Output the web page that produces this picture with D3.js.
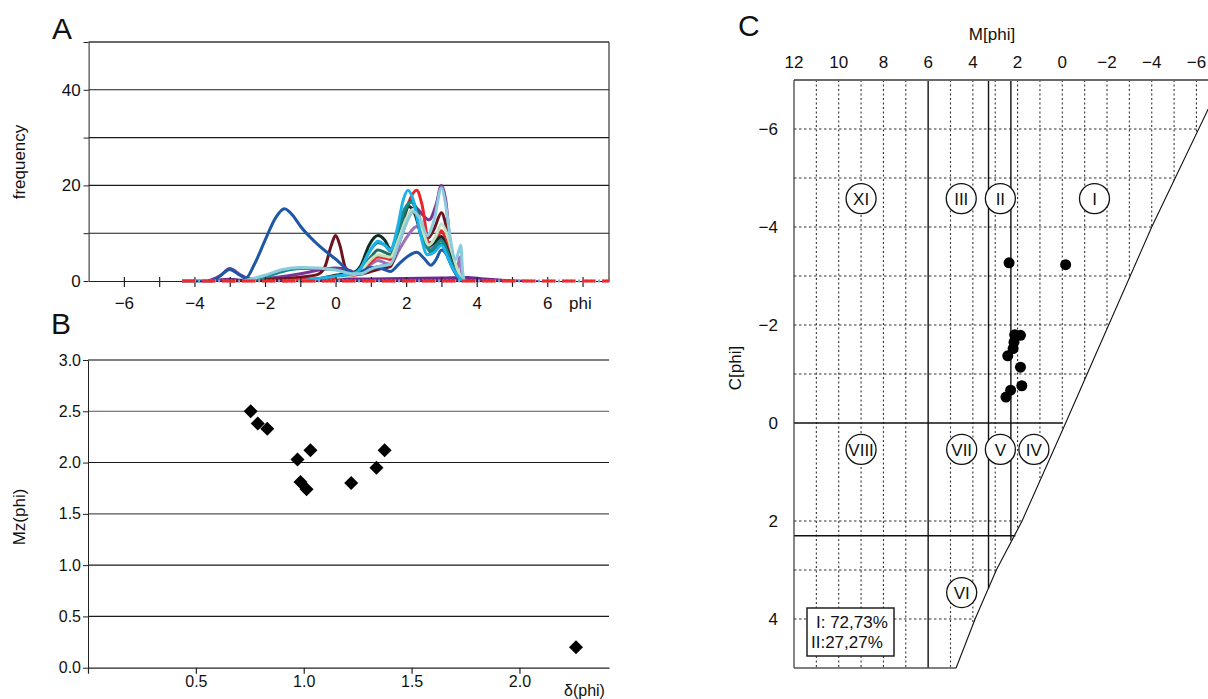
<!DOCTYPE html>
<html>
<head>
<meta charset="utf-8">
<script src="https://cdn.jsdelivr.net/npm/d3@7"></script>
<style>
body { margin: 0; background: #fff; }
svg text { font-family: "Liberation Sans", Arial, sans-serif; fill: #111; }
</style>
</head>
<body>
<svg width="1208" height="699"></svg>
<script>
// ---- A: grain size frequency curves (phi, %) ----
var phiTicks = [-6, -4, -2, 0, 2, 4, 6];
var freqTicks = [0, 20, 40];
var freqGrid = [10, 20, 30, 40, 50];

var sampleBlue = [[-4.35,0],[-3.5,0],[-3.25,1.2],[-3.0,2.4],[-2.75,1.4],[-2.55,0.6],[-2.3,3.5],[-2.0,8.5],[-1.7,13.2],[-1.45,15.1],[-1.2,13.6],[-1.0,11.5],[-0.5,7.6],[0,4.6],[0.5,1.8],[0.7,1.9],[1.0,2.8],[1.3,2.6],[1.55,2.0],[1.8,3.6],[2.05,5.2],[2.3,6.0],[2.5,4.8],[2.7,3.3],[2.85,4.5],[3.0,6.5],[3.15,5.5],[3.3,3.0],[3.45,1.0],[3.6,0]];
var sampleMaroon = [[-3,0],[-2,0.3],[-1,0.8],[-0.5,1.4],[-0.3,3],[-0.12,7.5],[0,9.5],[0.12,7.5],[0.28,2.8],[0.5,1.5],[0.7,1.4],[1.0,2.0],[1.3,2.6],[1.55,3.0],[1.8,8],[2.05,13],[2.25,15],[2.45,11],[2.62,9.0],[2.8,11],[3.0,14.3],[3.15,11],[3.3,5],[3.45,2],[3.6,0]];
var sampleBlack = [[-0.5,0.3],[0,1.2],[0.3,1.5],[0.55,1.9],[0.7,3],[0.95,7.5],[1.2,9.5],[1.4,8.5],[1.55,6.7],[1.7,7.5],[1.9,12.5],[2.08,15.6],[2.25,14],[2.45,9],[2.62,7.2],[2.8,8],[3.0,9.3],[3.15,7],[3.3,4.5],[3.45,2],[3.6,0]];
var sampleRed = [[-1.5,0],[-0.5,0.5],[0.5,1.2],[0.7,1.5],[1.0,4],[1.2,5],[1.4,4.8],[1.55,4.5],[1.8,9],[2.05,16],[2.3,19],[2.45,16],[2.65,8],[2.85,8.5],[3.0,10.5],[3.15,8],[3.3,4.5],[3.45,2],[3.6,0]];
var sampleCyan = [[-1,0],[0,1.0],[0.5,1.5],[0.7,2.5],[0.95,6],[1.2,8.3],[1.4,7.5],[1.55,6.5],[1.75,11],[1.92,17],[2.05,19],[2.2,17],[2.4,10],[2.6,5.5],[2.8,6],[3.0,7.5],[3.15,5.5],[3.3,3],[3.45,1.2],[3.6,0]];
var samplePurple = [[-3.6,0],[-3.25,1.2],[-3.0,2.6],[-2.7,1.3],[-2.4,0.4],[-2,0.5],[-1,1.5],[-0.3,2.5],[0,2.7],[0.4,2.2],[0.6,1.6],[0.9,2.5],[1.2,3],[1.55,3.3],[1.8,8],[2.05,13.5],[2.25,15.5],[2.45,14],[2.65,12.8],[2.85,16],[3.0,20],[3.12,17],[3.25,8],[3.4,3],[3.55,0]];
var sampleLavender = [[0.4,1.2],[0.7,1.8],[1.0,3.5],[1.2,4.3],[1.4,3.8],[1.55,3.5],[1.8,6.5],[2.05,9.5],[2.3,11.4],[2.5,9],[2.65,7],[2.85,8],[3.0,9],[3.15,7],[3.3,4],[3.45,2.5],[3.52,5],[3.57,1.5],[3.62,0]];
var sampleTeal = [[-2.5,0],[-2,0.8],[-1.5,2.0],[-1,2.6],[-0.5,2.6],[0,2.4],[0.5,1.5],[0.7,2.5],[0.95,6],[1.2,8],[1.4,7.5],[1.55,6.3],[1.75,10],[1.95,15],[2.15,16.5],[2.35,13],[2.55,7.5],[2.7,6.5],[2.85,7.5],[3.0,8.5],[3.15,6.5],[3.3,3.5],[3.45,1.2],[3.6,0]];
var sampleDarkTeal = [[0.4,1.2],[0.7,2],[1.0,5],[1.2,6.5],[1.4,6],[1.55,5.5],[1.8,10],[2.0,15],[2.15,16.8],[2.35,14],[2.55,8],[2.7,6],[2.85,7],[3.0,7.8],[3.15,5.5],[3.3,3],[3.45,1],[3.6,0]];
var sampleLightGreen = [[0,0.8],[0.5,1.3],[0.7,2],[1.0,4.5],[1.2,5.5],[1.4,5.2],[1.55,5],[1.8,9],[2.0,13],[2.2,15],[2.4,12],[2.65,7.5],[2.85,9.5],[3.0,12],[3.15,10],[3.3,6],[3.45,2.5],[3.6,0]];
var sampleLightBlue = [[-2.6,0],[-2,1.2],[-1.5,2.4],[-1,2.8],[-0.5,2.7],[0,2.3],[0.5,1.5],[0.7,1.5],[1.0,2.5],[1.2,3],[1.55,3.5],[1.8,8],[2.0,12],[2.2,14.5],[2.4,13],[2.6,9.5],[2.8,13],[3.0,19.5],[3.12,16],[3.25,9],[3.4,4.5],[3.5,6.5],[3.55,7.5],[3.6,2],[3.65,0]];
var samplePurpleBase = [[-3.6,0],[-3,0.5],[-2.5,0.2],[-2,0.3],[0,0.5],[1,0.6],[2,0.7],[3,0.8],[3.7,0.9],[4.2,0.6],[5,0.2],[5.8,0]];
var baseline = [[-4.35,0],[7.75,0]];

var curveOrder = ["lavender","purple","maroon","red","black","darkteal","teal","lightgreen","blue","cyan","lightblue"];
var curveColor = {
  blue: "#1d57a6", maroon: "#6e1420", black: "#0c2e24", red: "#e8262b", cyan: "#1bb3e8",
  purple: "#7a3594", lavender: "#9c70bb", teal: "#168a88", darkteal: "#1f6e5e",
  lightgreen: "#c4e2be", lightblue: "#8ccbdd"
};
var curveData = {
  blue: sampleBlue, maroon: sampleMaroon, black: sampleBlack, red: sampleRed, cyan: sampleCyan,
  purple: samplePurple, lavender: sampleLavender, teal: sampleTeal, darkteal: sampleDarkTeal,
  lightgreen: sampleLightGreen, lightblue: sampleLightBlue
};

// ---- B: sorting vs mean size ----
var sorting = [0.754, 0.787, 0.831, 0.971, 1.031, 0.985, 1.013, 1.22, 1.337, 1.375, 2.262];
var meanSize = [2.50, 2.38, 2.33, 2.03, 2.12, 1.81, 1.74, 1.80, 1.95, 2.12, 0.20];
var sortTicks = [0, 0.5, 1.0, 1.5, 2.0];
var mzTicks = [0, 0.5, 1.0, 1.5, 2.0, 2.5, 3.0];

// ---- C: M[phi] vs C[phi] diagram ----
var mPhi = [2.38, -0.15, 2.13, 1.87, 2.16, 2.20, 2.44, 1.87, 1.81, 2.31, 2.52];
var cPhi = [-3.27, -3.23, -1.80, -1.79, -1.65, -1.52, -1.37, -1.14, -0.76, -0.67, -0.53];
var mTicks = [12, 10, 8, 6, 4, 2, 0, -2, -4, -6];
var cTicks = [-6, -4, -2, 0, 2, 4];
var mGrid = [11, 10, 9, 8, 7, 5, 4, 3, 2, 1, 0, -1, -2, -3, -4, -5, -6];
var cGrid = [-6, -5, -4, -3, -2, -1, 2, 3, 4];
var limitLine = [[-7.15,-7],[-4.0,-4],[-1.4,-1.3],[-0.15,0],[1.8,2],[2.95,3],[3.9,4],[4.75,5]];
var zoneLines = [
  [[6,-7],[6,5]],
  [[3.3,-7],[3.3,3.38]],
  [[2.3,-7],[2.3,2.4]],
  [[12,0],[0,0]],
  [[12,2.3],[2.1,2.3]]
];
var zoneNames = ["XI","III","II","I","VIII","VII","V","IV","VI"];
var zoneM = [9.0, 4.52, 2.77, -1.44, 9.0, 4.5, 2.77, 1.27, 4.5];
var zoneC = [-4.58, -4.58, -4.58, -4.58, 0.54, 0.54, 0.54, 0.54, 3.46];
var shares = ["I: 72,73%", "II:27,27%"];

var svg = d3.select("svg");
var font = "'Liberation Sans', Arial, sans-serif";

// ================= panel A =================
var xA = d3.scaleLinear().domain([-7, 7.75]).range([88.6, 609]);
var yA = d3.scaleLinear().domain([0, 50]).range([281, 42]);

var gA = svg.append("g");

gA.selectAll("line.grid").data(freqGrid).enter().append("line")
  .attr("class", "grid")
  .attr("x1", xA(-7)).attr("x2", xA(7.75))
  .attr("y1", function(d) { return yA(d); })
  .attr("y2", function(d) { return yA(d); })
  .attr("stroke", function(d) { return d == 50 ? "#6a6a6a" : "#1a1a1a"; })
  .attr("stroke-width", function(d) { return d == 50 ? 1.8 : 1.1; });

gA.append("line")
  .attr("x1", xA(7.75)).attr("x2", xA(7.75))
  .attr("y1", yA(0)).attr("y2", yA(50))
  .attr("stroke", "#333").attr("stroke-width", 1.2);

var axisYA = gA.append("g")
  .attr("transform", "translate(" + xA(-7) + ",0)")
  .call(d3.axisLeft(yA).tickValues([0, 10, 20, 30, 40, 50]).tickSize(5).tickSizeOuter(0).tickPadding(3)
    .tickFormat(function(d) { return freqTicks.indexOf(d) >= 0 ? d : ""; }));
axisYA.attr("font-size", 17).attr("font-family", font);
axisYA.selectAll("path, line").attr("stroke", "#222");

var lineA = d3.line()
  .x(function(d) { return xA(d[0]); })
  .y(function(d) { return yA(d[1]); })
  .curve(d3.curveMonotoneX);
var areaA = d3.area()
  .x(function(d) { return xA(d[0]); })
  .y0(yA(0))
  .y1(function(d) { return yA(d[1]); })
  .curve(d3.curveMonotoneX);

gA.append("path")
  .attr("d", areaA(samplePurpleBase))
  .attr("fill", "#6b2c8c")
  .attr("stroke", "#6b2c8c").attr("stroke-width", 1.5);

gA.selectAll("path.curve").data(curveOrder).enter().append("path")
  .attr("class", "curve")
  .attr("d", function(d) { return lineA(curveData[d]); })
  .attr("fill", "none")
  .attr("stroke", function(d) { return curveColor[d]; })
  .attr("stroke-width", 3)
  .attr("stroke-linejoin", "round");

// x axis with baseline dashes
var axisXA = gA.append("g")
  .attr("transform", "translate(0," + yA(0) + ")")
  .call(d3.axisBottom(xA).tickValues(d3.range(-6, 8)).tickSize(6).tickSizeOuter(0).tickPadding(10)
    .tickFormat(function(d) { return phiTicks.indexOf(d) >= 0 ? d3.format("")(d) : ""; }));
axisXA.attr("font-size", 17).attr("font-family", font);
axisXA.selectAll("path, line").attr("stroke", "#222").attr("stroke-width", 1.2);
axisXA.selectAll(".tick line").attr("y1", -4);

gA.append("path")
  .attr("d", lineA(baseline))
  .attr("stroke", "#8aa6cf").attr("stroke-width", 3).attr("stroke-dasharray", "2,2");
gA.append("path")
  .attr("d", lineA(baseline))
  .attr("stroke", "#ee2a2a").attr("stroke-width", 3).attr("stroke-dasharray", "13,7");

gA.append("text").attr("x", 569).attr("y", 309).attr("font-size", 17).text("phi");
gA.append("text").attr("x", 52).attr("y", 39).attr("font-size", 30).text("A");
gA.append("text")
  .attr("transform", "translate(25,162) rotate(-90)")
  .attr("text-anchor", "middle").attr("font-size", 17).text("frequency");

// ================= panel B =================
var xB = d3.scaleLinear().domain([0, 2.415]).range([88, 609]);
var yB = d3.scaleLinear().domain([0, 3]).range([667.7, 360]);

var gB = svg.append("g");

gB.selectAll("line.grid").data(mzTicks.slice(1)).enter().append("line")
  .attr("class", "grid")
  .attr("x1", xB(0)).attr("x2", xB(2.415))
  .attr("y1", function(d) { return yB(d); })
  .attr("y2", function(d) { return yB(d); })
  .attr("stroke", function(d) { return d == 3 || d == 1.5 || d == 2.5 ? "#555" : "#1a1a1a"; })
  .attr("stroke-width", function(d) { return d == 3 ? 1.6 : 1.1; });

var axisYB = gB.append("g")
  .attr("transform", "translate(" + xB(0) + ",0)")
  .call(d3.axisLeft(yB).tickValues(mzTicks).tickSize(5).tickSizeOuter(0).tickPadding(2)
    .tickFormat(d3.format(".1f")));
axisYB.attr("font-size", 16).attr("font-family", font);
axisYB.selectAll("path, line").attr("stroke", "#222");

var axisXB = gB.append("g")
  .attr("transform", "translate(0," + yB(0) + ")")
  .call(d3.axisBottom(xB).tickValues(sortTicks).tickSize(6).tickSizeOuter(0).tickPadding(2)
    .tickFormat(function(d) { return d == 0 ? "" : d3.format(".1f")(d); }));
axisXB.attr("font-size", 16).attr("font-family", font);
axisXB.selectAll("path, line").attr("stroke", "#222").attr("stroke-width", 1.2);

gB.selectAll("path.pt").data(sorting).enter().append("path")
  .attr("class", "pt")
  .attr("d", d3.symbol(d3.symbolSquare, 98))
  .attr("transform", function(d, i) {
    return "translate(" + xB(d) + "," + yB(meanSize[i]) + ") rotate(45)";
  })
  .attr("fill", "#000");

gB.append("text").attr("x", 564).attr("y", 696).attr("font-size", 16).text("δ(phi)");
gB.append("text").attr("x", 51).attr("y", 334).attr("font-size", 30).text("B");
gB.append("text")
  .attr("transform", "translate(25,517) rotate(-90)")
  .attr("text-anchor", "middle").attr("font-size", 17).text("Mz(phi)");

// ================= panel C =================
var xC = d3.scaleLinear().domain([12, -7]).range([794, 1218.8]);
var yC = d3.scaleLinear().domain([-7, 5]).range([80, 668]);

var gC = svg.append("g");

var limitPath = d3.line()
  .x(function(d) { return xC(d[0]); })
  .y(function(d) { return yC(d[1]); });

var clipPts = [[12, -7]].concat(limitLine).concat([[12, 5]]);
gC.append("clipPath").attr("id", "cclip")
  .append("path").attr("d", limitPath(clipPts) + "Z");

var gGrid = gC.append("g").attr("clip-path", "url(#cclip)");
gGrid.selectAll("line.vg").data(mGrid).enter().append("line")
  .attr("class", "vg")
  .attr("x1", function(d) { return xC(d); })
  .attr("x2", function(d) { return xC(d); })
  .attr("y1", yC(-7)).attr("y2", yC(5))
  .attr("stroke", "#333").attr("stroke-width", 1.1).attr("stroke-dasharray", "2,2.5");
gGrid.selectAll("line.hg").data(cGrid).enter().append("line")
  .attr("class", "hg")
  .attr("x1", xC(12)).attr("x2", xC(-7))
  .attr("y1", function(d) { return yC(d); })
  .attr("y2", function(d) { return yC(d); })
  .attr("stroke", "#333").attr("stroke-width", 1.1).attr("stroke-dasharray", "2.5,2.5");

gC.selectAll("path.zone").data(zoneLines).enter().append("path")
  .attr("class", "zone")
  .attr("d", limitPath)
  .attr("stroke", "#111").attr("stroke-width", 1.4).attr("fill", "none");

// frame
gC.append("line")
  .attr("x1", xC(12)).attr("x2", 1208).attr("y1", yC(-7)).attr("y2", yC(-7))
  .attr("stroke", "#6a6a6a").attr("stroke-width", 2);
gC.append("line")
  .attr("x1", xC(12)).attr("x2", xC(12)).attr("y1", yC(-7)).attr("y2", yC(5))
  .attr("stroke", "#333").attr("stroke-width", 1.2);
gC.append("line")
  .attr("x1", xC(12)).attr("x2", xC(limitLine[limitLine.length - 1][0]))
  .attr("y1", yC(5)).attr("y2", yC(5))
  .attr("stroke", "#555").attr("stroke-width", 1.4);
gC.append("path")
  .attr("d", limitPath(limitLine))
  .attr("stroke", "#111").attr("stroke-width", 1.1).attr("fill", "none");

// zone labels
var zone = gC.selectAll("g.zl").data(zoneNames).enter().append("g")
  .attr("class", "zl")
  .attr("transform", function(d, i) { return "translate(" + xC(zoneM[i]) + "," + yC(zoneC[i]) + ")"; });
zone.append("circle").attr("r", 15)
  .attr("fill", "#fff").attr("stroke", "#111").attr("stroke-width", 1.3);
zone.append("text").attr("text-anchor", "middle").attr("dy", "0.36em")
  .attr("font-size", 17).text(function(d) { return d; });

// samples
gC.selectAll("circle.pt").data(mPhi).enter().append("circle")
  .attr("class", "pt")
  .attr("cx", function(d) { return xC(d); })
  .attr("cy", function(d, i) { return yC(cPhi[i]); })
  .attr("r", 5.5).attr("fill", "#000");

// axis labels
gC.selectAll("text.mt").data(mTicks).enter().append("text")
  .attr("class", "mt")
  .attr("x", function(d) { return xC(d); }).attr("y", 68)
  .attr("text-anchor", "middle").attr("font-size", 17)
  .text(function(d) { return d3.format("")(d); });
gC.selectAll("text.ct").data(cTicks).enter().append("text")
  .attr("class", "ct")
  .attr("x", 778).attr("y", function(d) { return yC(d); })
  .attr("dy", "0.36em").attr("text-anchor", "end").attr("font-size", 17)
  .text(function(d) { return d3.format("")(d); });

gC.append("text").attr("x", 992).attr("y", 40).attr("text-anchor", "middle")
  .attr("font-size", 17).text("M[phi]");
gC.append("text").attr("x", 738).attr("y", 36).attr("font-size", 30).text("C");
gC.append("text")
  .attr("transform", "translate(741,368) rotate(-90)")
  .attr("text-anchor", "middle").attr("font-size", 17).text("C[phi]");

// share box
gC.append("rect").attr("x", 807).attr("y", 608).attr("width", 87).attr("height", 48)
  .attr("fill", "#fff").attr("stroke", "#222").attr("stroke-width", 1.5);
gC.selectAll("text.sh").data(shares).enter().append("text")
  .attr("class", "sh")
  .attr("x", function(d, i) { return i == 0 ? 816 : 811; })
  .attr("y", function(d, i) { return 628 + i * 20; })
  .attr("font-size", 17).text(function(d) { return d; });
</script>
</body>
</html>
